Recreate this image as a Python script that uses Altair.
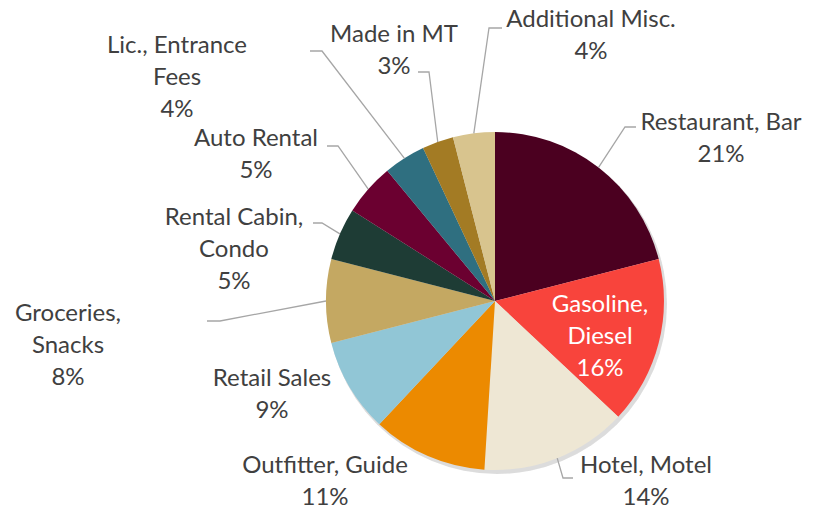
import math
import altair as alt
import pandas as pd

# ---------------- data ----------------
categories = ["Restaurant, Bar", "Gasoline, Diesel", "Hotel, Motel", "Outfitter, Guide",
              "Retail Sales", "Groceries, Snacks", "Rental Cabin, Condo", "Auto Rental",
              "Lic., Entrance Fees", "Made in MT", "Additional Misc."]
values = [21, 16, 14, 11, 9, 8, 5, 5, 4, 3, 4]
label_names = [["Restaurant, Bar"], ["Gasoline,", "Diesel"], ["Hotel, Motel"],
               ["Outfitter, Guide"], ["Retail Sales"], ["Groceries,", "Snacks"],
               ["Rental Cabin,", "Condo"], ["Auto Rental"], ["Lic., Entrance", "Fees"],
               ["Made in MT"], ["Additional Misc."]]
colors = ["#4b0020", "#f8443c", "#eee7d4", "#ec8a00", "#91c6d6", "#c4a862",
          "#1e3c35", "#6b0030", "#2f6f80", "#a37b24", "#d8c48e"]

# ---------------- layout (pixels) ----------------
M = 8                      # page margin
CX, CY, R = 495 - M, 301 - M, 169
LINE_H = 32
TEXT_COLOR = "#404040"
# first-line centre of each data label (page coordinates)
label_anchor = {
    "Restaurant, Bar": (721, 123), "Gasoline, Diesel": (600, 305),
    "Hotel, Motel": (646, 466), "Outfitter, Guide": (325, 466),
    "Retail Sales": (272, 379), "Groceries, Snacks": (68, 314),
    "Rental Cabin, Condo": (234, 218), "Auto Rental": (256, 139),
    "Lic., Entrance Fees": (177, 46), "Made in MT": (394, 35),
    "Additional Misc.": (591, 20),
}
# leader-line elbow and end points (page coordinates)
leader_pts = {
    "Restaurant, Bar": [(625, 127), (636, 127)],
    "Hotel, Motel": [(563, 478), (573, 478)],
    "Groceries, Snacks": [(220, 321), (207, 321)],
    "Rental Cabin, Condo": [(322, 223), (313, 223)],
    "Auto Rental": [(338, 146), (327, 146)],
    "Lic., Entrance Fees": [(322, 51), (310, 51)],
    "Made in MT": [(429, 72), (418, 72)],
    "Additional Misc.": [(489, 28), (502, 28)],
}
inside = {"Gasoline, Diesel"}

# ---------------- tables ----------------
pie = pd.DataFrame({"idx": range(len(categories)), "category": categories,
                    "value": values, "color": colors})

total = sum(values)
text_rows, line_rows = [], []
cum = 0
for cat, v, names in zip(categories, values, label_names):
    mid = (cum + v / 2) / total * 2 * math.pi
    cum += v
    ax, ay = label_anchor[cat]
    lines = names + [f"{round(v / total * 100)}%"]
    for i, t in enumerate(lines):
        text_rows.append({"x": ax - M, "y": ay - M + i * LINE_H, "text": t,
                          "tc": "#ffffff" if cat in inside else TEXT_COLOR})
    if cat in leader_pts:
        pts = [(CX + R * math.sin(mid), CY - R * math.cos(mid))]
        pts += [(px - M, py - M) for px, py in leader_pts[cat]]
        for j, (px, py) in enumerate(pts):
            line_rows.append({"key": cat, "ord": j, "x": px, "y": py})

texts = pd.DataFrame(text_rows)
leaders = pd.DataFrame(line_rows)

# ---------------- chart ----------------
shadow = alt.Chart(pd.DataFrame({"s": [0, 1]})).mark_arc(
    theta=0, theta2=2 * math.pi, color="#000000"
).encode(
    x=alt.value(CX + 2), y=alt.value(CY + 3),
    radius=alt.value(R + 1),
    opacity=alt.value(0.07),
)

arcs = alt.Chart(pie).mark_arc(radius=R).encode(
    theta=alt.Theta("value:Q", stack=True),
    color=alt.Color("color:N", scale=None),
    order=alt.Order("idx:Q", sort="ascending"),
    x=alt.value(CX), y=alt.value(CY),
)

lines = alt.Chart(leaders).mark_line(color="#a6a6a6", strokeWidth=1.3).encode(
    x=alt.X("x:Q", scale=None, axis=None),
    y=alt.Y("y:Q", scale=None, axis=None),
    detail="key:N",
    order="ord:Q",
)

labels = alt.Chart(texts).mark_text(
    font="Lato", fontSize=24, align="center", baseline="middle"
).encode(
    x=alt.X("x:Q", scale=None, axis=None),
    y=alt.Y("y:Q", scale=None, axis=None),
    text="text:N",
    color=alt.Color("tc:N", scale=None),
)

chart = alt.layer(shadow, arcs, lines, labels).properties(
    width=804, height=498, padding=0,
    autosize=alt.AutoSizeParams(type="none"),
).configure_view(stroke=None)

chart.save("out.html", embed_options={"renderer": "svg", "actions": False})
